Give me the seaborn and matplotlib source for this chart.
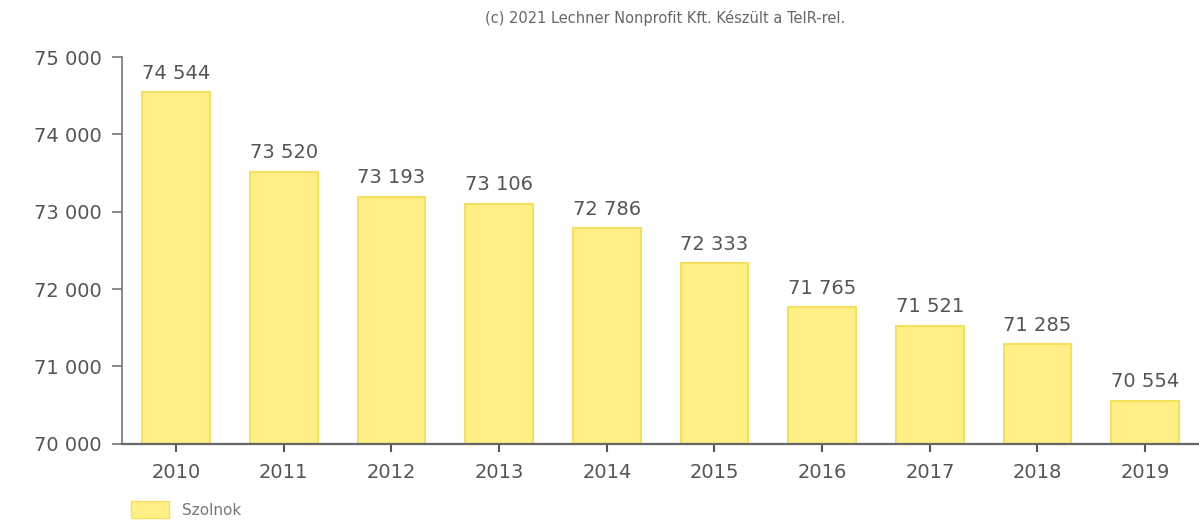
import numpy as np
import pandas as pd
import matplotlib
matplotlib.use("Agg")
import matplotlib.pyplot as plt
import seaborn as sns
from matplotlib.patches import Patch

# Data
years = ["2010", "2011", "2012", "2013", "2014", "2015", "2016", "2017", "2018", "2019"]
population = [74544, 73520, 73193, 73106, 72786, 72333, 71765, 71521, 71285, 70554]
y_ticks = [70000, 71000, 72000, 73000, 74000, 75000]
series_name = "Szolnok"
credit = "(c) 2021 Lechner Nonprofit Kft. Készült a TeIR-rel."

BAR_FILL = "#FFEF85"
BAR_EDGE = "#F6DF5E"
TEXT = "#555555"


def fmt(v):
    return f"{v:,}".replace(",", " ")


sns.set_style("white")
plt.rcParams['font.family'] = ['DejaVu Sans']

df = pd.DataFrame({"year": years, "value": population})

fig = plt.figure(figsize=(11.99, 5.24), dpi=100)
ax = fig.add_axes([0.102, 0.153, 0.898, 0.738])

sns.barplot(data=df, x="year", y="value", color=BAR_FILL, width=0.63,
            edgecolor=BAR_EDGE, linewidth=1.5, saturation=1, ax=ax)

ax.set_ylim(70000, 75000)
ax.set_xlim(-0.5, 9.5)
ax.set_yticks(y_ticks)
ax.set_yticklabels([fmt(t) for t in y_ticks], fontsize=14, color=TEXT)
ax.set_xticklabels(years, fontsize=14, color=TEXT)
ax.set_xlabel("")
ax.set_ylabel("")

# value labels above bars
for container in ax.containers:
    ax.bar_label(container, labels=[fmt(v) for v in population],
                 padding=7, fontsize=14, color=TEXT)

for side in ["top", "right"]:
    ax.spines[side].set_visible(False)
ax.spines["left"].set_color("#777777")
ax.spines["left"].set_linewidth(1.2)
ax.spines["bottom"].set_color("#666666")
ax.spines["bottom"].set_linewidth(1.6)
ax.tick_params(axis="y", direction="out", length=7, width=1.2, color="#777777", pad=8, left=True)
ax.tick_params(axis="x", direction="out", length=6, width=1.5, color="#555555", pad=8, bottom=True)

fig.text(0.555, 0.965, credit, ha="center", va="center", fontsize=10.5, color="#666666")

handle = Patch(facecolor=BAR_FILL, edgecolor=BAR_EDGE, label=series_name)
fig.legend(handles=[handle], loc="lower left", bbox_to_anchor=(0.098, -0.015),
           frameon=False, fontsize=11, handlelength=2.5, handleheight=1.3,
           labelcolor="#777777")

fig.savefig("out.png", dpi=100, facecolor="white")
